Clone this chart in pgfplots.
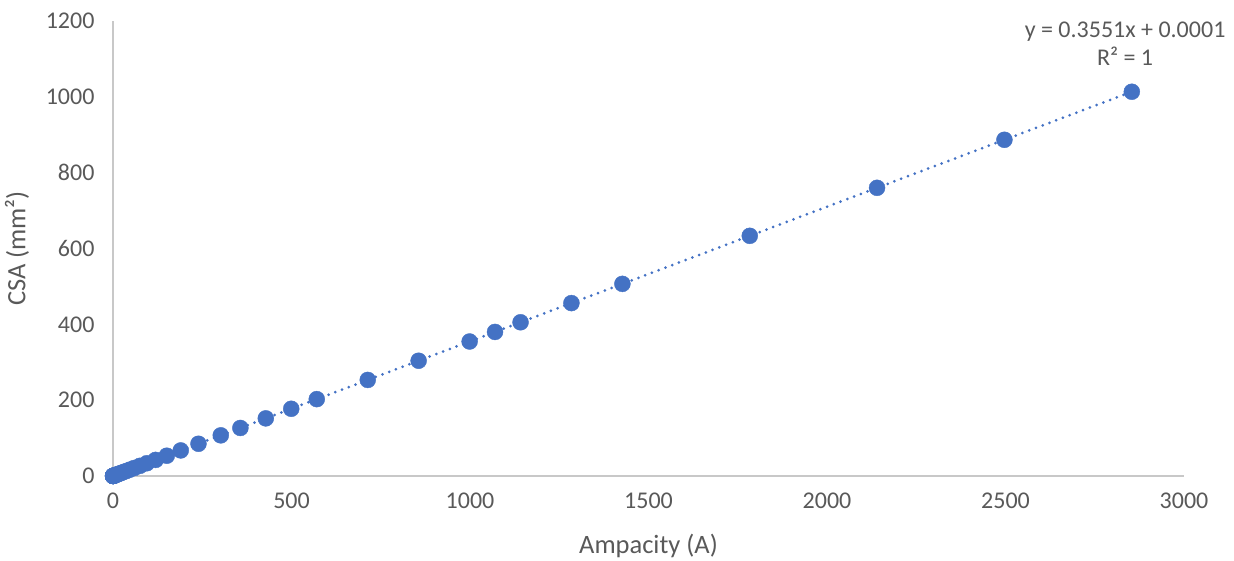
\documentclass[border=0pt]{standalone}
\usepackage{pgfplots}
\pgfplotsset{compat=1.18}
\usepackage{pgfplotstable}
\usepackage{fontspec}
\setmainfont{Carlito}
\definecolor{excelblue}{HTML}{4472C4}
\definecolor{txtgray}{HTML}{595959}
\definecolor{axgray}{HTML}{C8C8C8}
\pgfplotstableread{
x y
2853.9 1013.4
2497.0 886.7
2140.2 760.0
1783.7 633.4
1426.9 506.7
1284.1 456.0
1141.6 405.4
1070.1 380.0
998.9 354.7
856.1 304.0
713.6 253.4
570.8 202.7
499.3 177.3
428.0 152.0
356.8 126.7
301.9 107.2
239.4 85.0
189.8 67.4
150.7 53.5
119.4 42.4
94.6 33.6
75.2 26.7
59.7 21.2
47.3 16.8
37.5 13.3
29.6 10.5
23.6 8.37
18.7 6.63
14.8 5.26
11.7 4.17
9.3 3.31
7.4 2.62
5.9 2.08
4.6 1.65
3.7 1.31
2.9 1.04
2.32 0.823
1.84 0.653
1.46 0.518
1.15 0.410
0.92 0.326
0.73 0.258
0.58 0.205
0.46 0.162
0.36 0.129
0.29 0.102
0.23 0.081
0.18 0.0642
0.14 0.0509
}\datatable
\begin{document}
\begin{tikzpicture}
\path[use as bounding box] (-113pt,-85pt) rectangle (1121pt,476pt);
\begin{axis}[
  at={(0,0)}, anchor=south west,
  scale only axis, width=1071pt, height=455pt,
  xmin=0, xmax=3000, ymin=0, ymax=1200,
  xtick={0,500,...,3000}, ytick={0,200,...,1200},
  axis x line*=bottom, axis y line*=left,
  axis line style={-, draw=axgray, line width=1.2pt},
  major tick length=0pt,
  clip=false,
  tick label style={font=\fontsize{24}{28}\selectfont, text=txtgray},
  /pgf/number format/assume math mode=true,
  /pgf/number format/1000 sep={},
  xticklabel style={yshift=-13pt},
  yticklabel style={xshift=-15pt},
  xlabel={Ampacity (A)}, ylabel={CSA (mm²)},
  label style={font=\fontsize{26.5}{31}\selectfont, text=txtgray},
  xlabel style={yshift=-19pt},
  ylabel style={yshift=10pt},
]
\addplot[excelblue, line width=3pt, line cap=round, dash pattern=on 0pt off 7.2pt] coordinates {(0,0.0001) (2853.9,1013.4)};
\addplot[only marks, mark=*, mark size=8pt, mark options={excelblue, fill=excelblue}] table[x=x,y=y] {\datatable};
\node[align=center, font=\fontsize{24}{28}\selectfont, text=txtgray] at (axis cs:2835,1140) {y = 0.3551x + 0.0001\\R² = 1};
\end{axis}
\end{tikzpicture}
\end{document}
